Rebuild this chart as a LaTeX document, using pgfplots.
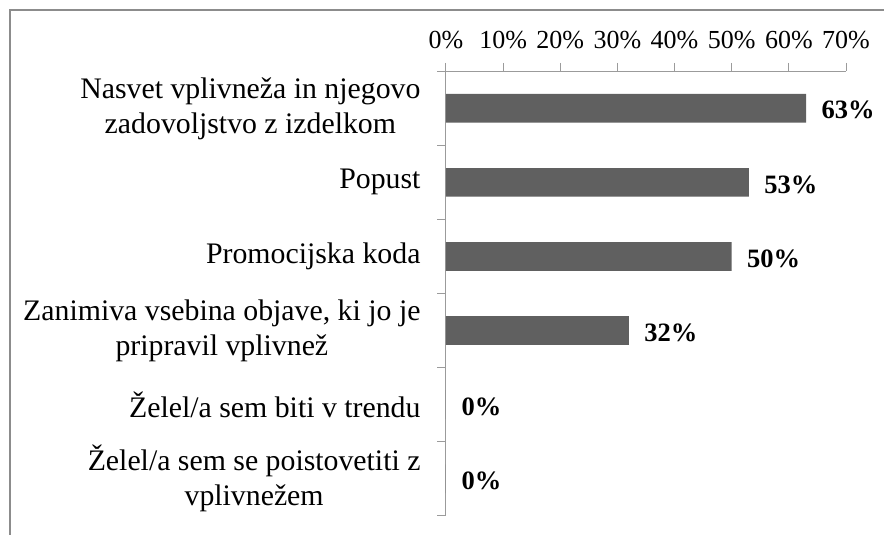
\documentclass[border=0pt]{standalone}
\usepackage{pgfplots}
\pgfplotsset{compat=1.18}
\usepackage{fontspec}
\setmainfont{Liberation Serif}
\definecolor{barcol}{RGB}{96,96,96}
\definecolor{axcol}{RGB}{155,155,155}
\definecolor{bordercol}{RGB}{140,140,140}
\begin{document}
\begin{tikzpicture}
\path[use as bounding box] (0pt,0pt) rectangle (884pt,535pt);
\begin{scope}
\clip (0pt,0pt) rectangle (884pt,535pt);
\draw[bordercol, line width=2pt] (10pt,-5pt) -- (10pt,524.5pt) -- (890pt,524.5pt);
\begin{axis}[
  at={(446pt,19.3pt)}, anchor=south west,
  scale only axis, width=400pt, height=444.4pt,
  xmin=0, xmax=70, ymin=0.5, ymax=6.5,
  enlargelimits=false, clip=false,
  axis x line*=top, axis y line*=left,
  axis line style={axcol, line width=1pt},
  tick style={axcol, line width=1pt},
  tick align=outside,
  major tick length=8.5pt,
  /pgf/number format/assume math mode=true,
  xtick={0,10,...,70},
  xticklabel={\pgfmathprintnumber{\tick}\%},
  xticklabel style={font=\fontsize{26}{30}\selectfont, yshift=10pt},
  ytick={0.5,1.5,...,6.5},
  yticklabels={},
  extra y ticks={1,2,3,4,5,6},
  extra y tick labels={{Želel/a sem se poistovetiti z\\vplivnežem},{Želel/a sem biti v trendu},{Zanimiva vsebina objave, ki jo je\\pripravil vplivnež},{Promocijska koda},{Popust},{Nasvet vplivneža in njegovo\\zadovoljstvo z izdelkom}},
  extra y tick style={major tick length=0pt, yticklabel style={align=center, font=\fontsize{29.8}{35}\selectfont, xshift=-22pt}},
]
\addplot[xbar, bar width=28.7pt, fill=barcol, draw=none,
  point meta=x,
  nodes near coords={\bfseries\pgfmathprintnumber{\pgfplotspointmeta}\%},
  nodes near coords style={font=\fontsize{26.5}{30}\selectfont, anchor=west, xshift=12pt, yshift=-2pt, text=black}]
  coordinates {(0,1) (0,2) (32,3) (50,4) (53,5) (63,6)};
\end{axis}
\end{scope}
\end{tikzpicture}
\end{document}
